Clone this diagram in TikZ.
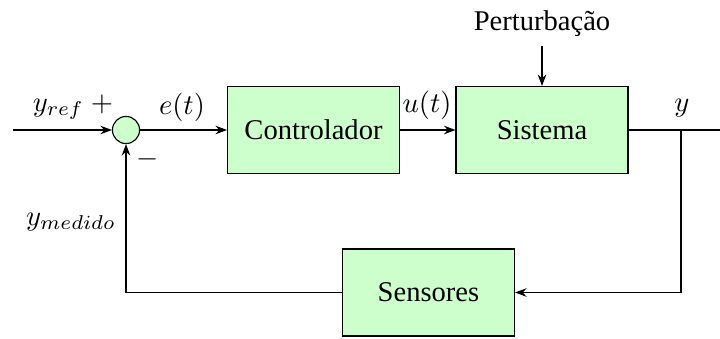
\documentclass[tikz,border=0pt]{standalone}
\usepackage[no-math]{fontspec}
\setmainfont{Liberation Serif}
\usetikzlibrary{arrows.meta}
\begin{document}
\begin{tikzpicture}[x=0.35pt,y=-0.35pt,
  blk/.style={draw,fill=green!20,minimum width=60.2pt,minimum height=30.45pt,inner sep=0pt},
  sumc/.style={draw,circle,fill=green!20,minimum size=9.5pt,inner sep=0pt},
  arr/.style={-{Stealth[length=4pt,width=3pt]}},
  lbl/.style={inner sep=0pt}]
\useasboundingbox (0,0) rectangle (720,338);
\node[sumc] (sum) at (126,130) {};
\node[blk] (ctrl) at (313.5,130) {Controlador};
\node[blk] (sys) at (542,130) {Sistema};
\node[blk] (sens) at (428.5,292.5) {Sensores};
\node[anchor=base] (pert) at (542,30) {Perturbação};
\coordinate (in) at (13,130);
\coordinate (out) at (720,130);
\coordinate (br) at (681,130);
\draw[arr] (in) -- (sum.west);
\draw[arr] (sum.east) -- (ctrl.west);
\draw[arr] (ctrl.east) -- (sys.west);
\draw (sys.east) -- (out);
\draw[arr] (pert.south) -- (sys.north);
\draw[arr] (br) |- (sens.east);
\draw[arr] (sens.west) -| (sum.south);
\node[lbl] (lref) at (73,107) {$y_{ref}$ $+$};
\node[lbl] (le) at (182,107) {$e(t)$};
\node[lbl] (lminus) at (148,159) {$-$};
\node[lbl] (lu) at (427,105) {$u(t)$};
\node[lbl] (ly) at (682,108) {$y$};
\node[lbl] (lmed) at (71,222) {$y_{medido}$};
\end{tikzpicture}
\end{document}
